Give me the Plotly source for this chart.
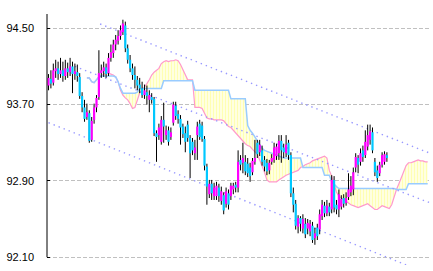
import plotly.graph_objects as go

# ---- candle data (price) ----
opens = [93.90, 93.97, 93.93, 94.05, 94.08, 94.02, 94.06, 94.00, 94.08, 94.04,
         94.10, 94.02, 94.04, 93.99, 93.79, 93.67, 93.57, 93.61, 93.33, 93.54,
         93.67, 93.78, 94.03, 94.05, 94.09, 94.03, 94.19, 94.24, 94.33, 94.37,
         94.42, 94.46, 94.53, 94.29, 94.17, 94.08, 94.01, 93.96, 93.91, 93.87,
         93.80, 93.83, 93.75, 93.78, 93.76, 93.40, 93.38, 93.31, 93.54, 93.38,
         93.43, 93.36, 93.51, 93.69, 93.60, 93.55, 93.47, 93.40, 93.49, 93.35,
         93.31, 93.19, 93.38, 93.50, 93.48, 93.34, 93.05, 92.76, 92.87, 92.74,
         92.74, 92.83, 92.69, 92.75, 92.66, 92.77, 92.74, 92.81, 92.86, 92.83,
         93.12, 93.09, 93.10, 93.08, 93.04, 92.99, 93.10, 93.30, 93.20, 93.22,
         93.12, 93.09, 93.01, 93.10, 93.12, 93.16, 93.19, 93.32, 93.25, 93.19,
         93.30, 93.17, 92.77, 92.66, 92.42, 92.51, 92.40, 92.45, 92.40, 92.37,
         92.43, 92.30, 92.41, 92.39, 92.53, 92.64, 92.56, 92.63, 92.60, 92.91,
         92.65, 92.60, 92.63, 92.72, 92.67, 92.73, 92.78, 92.81, 93.04, 93.14,
         93.10, 93.22, 93.17, 93.26, 93.33, 93.41, 93.10, 93.01, 92.98, 93.07,
         93.10, 93.17]
highs = [94.02, 94.06, 94.13, 94.17, 94.15, 94.19, 94.15, 94.17, 94.14, 94.19,
         94.15, 94.13, 94.12, 94.03, 93.83, 93.75, 93.71, 93.64, 93.57, 93.71,
         93.80, 94.27, 94.12, 94.15, 94.13, 94.24, 94.33, 94.38, 94.43, 94.48,
         94.53, 94.59, 94.57, 94.33, 94.22, 94.13, 94.10, 94.00, 93.98, 93.94,
         93.91, 93.90, 93.85, 93.82, 93.78, 93.43, 93.50, 93.58, 93.72, 93.48,
         93.47, 93.46, 93.73, 93.73, 93.64, 93.59, 93.50, 93.47, 93.53, 93.38,
         93.35, 93.33, 93.52, 93.54, 93.52, 93.37, 93.08, 92.91, 92.91, 92.88,
         92.89, 92.87, 92.84, 92.78, 92.83, 92.81, 92.88, 92.88, 92.89, 93.22,
         93.17, 93.30, 93.17, 93.14, 93.09, 93.14, 93.33, 93.33, 93.33, 93.27,
         93.16, 93.13, 93.12, 93.18, 93.30, 93.29, 93.38, 93.38, 93.29, 93.38,
         93.33, 93.20, 92.83, 92.70, 92.54, 92.53, 92.55, 92.51, 92.50, 92.49,
         92.47, 92.41, 92.45, 92.60, 92.70, 92.68, 92.70, 92.67, 92.96, 92.95,
         92.70, 92.81, 92.75, 92.76, 92.78, 92.98, 92.95, 93.04, 93.19, 93.17,
         93.24, 93.27, 93.43, 93.49, 93.49, 93.46, 93.14, 93.06, 93.10, 93.20,
         93.21, 93.20]
lows = [93.85, 93.87, 93.90, 93.98, 93.96, 93.98, 93.94, 93.96, 93.98, 94.00,
        93.82, 93.96, 93.94, 93.76, 93.62, 93.52, 93.54, 93.30, 93.31, 93.50,
        93.62, 93.75, 93.98, 93.99, 93.98, 94.00, 94.15, 94.19, 94.27, 94.33,
        94.38, 94.43, 94.25, 94.13, 94.04, 93.96, 93.87, 93.85, 93.82, 93.77,
        93.76, 93.70, 93.62, 93.71, 93.37, 93.10, 93.33, 93.28, 93.30, 93.33,
        93.27, 93.33, 93.48, 93.54, 93.50, 93.28, 93.35, 93.20, 93.31, 92.93,
        93.17, 93.12, 93.12, 93.33, 93.31, 93.01, 92.65, 92.72, 92.70, 92.70,
        92.70, 92.68, 92.65, 92.55, 92.62, 92.60, 92.70, 92.76, 92.78, 92.78,
        93.01, 92.98, 92.96, 92.94, 92.89, 92.96, 93.07, 93.14, 93.16, 93.06,
        93.00, 92.96, 92.97, 93.07, 93.09, 93.12, 93.12, 93.09, 93.14, 93.15,
        93.12, 92.73, 92.57, 92.39, 92.35, 92.37, 92.35, 92.30, 92.34, 92.32,
        92.25, 92.23, 92.28, 92.34, 92.49, 92.52, 92.53, 92.53, 92.56, 92.57,
        92.55, 92.52, 92.60, 92.62, 92.64, 92.70, 92.74, 92.75, 92.99, 92.98,
        93.06, 93.10, 93.14, 93.22, 93.28, 93.19, 92.95, 92.89, 92.95, 93.04,
        93.07, 93.10]
closes = [93.98, 93.92, 94.06, 94.08, 94.02, 94.06, 94.00, 94.08, 94.04, 94.10,
          94.02, 94.05, 94.00, 93.79, 93.67, 93.55, 93.62, 93.32, 93.53, 93.67,
          93.77, 94.03, 94.06, 94.09, 94.02, 94.19, 94.25, 94.33, 94.38, 94.42,
          94.48, 94.55, 94.29, 94.17, 94.08, 94.01, 93.96, 93.90, 93.87, 93.80,
          93.85, 93.79, 93.80, 93.75, 93.40, 93.36, 93.46, 93.54, 93.47, 93.43,
          93.31, 93.41, 93.70, 93.58, 93.55, 93.46, 93.39, 93.31, 93.35, 93.19,
          93.22, 93.25, 93.47, 93.36, 93.34, 93.06, 92.84, 92.87, 92.77, 92.83,
          92.85, 92.74, 92.79, 92.59, 92.79, 92.65, 92.85, 92.85, 92.83, 93.10,
          93.07, 93.14, 93.00, 92.98, 92.95, 93.11, 93.14, 93.18, 93.28, 93.10,
          93.05, 93.00, 93.09, 93.14, 93.25, 93.26, 93.32, 93.22, 93.20, 93.28,
          93.17, 92.77, 92.65, 92.43, 92.51, 92.45, 92.50, 92.34, 92.46, 92.45,
          92.28, 92.35, 92.32, 92.55, 92.65, 92.56, 92.64, 92.57, 92.91, 92.62,
          92.60, 92.76, 92.71, 92.66, 92.72, 92.81, 92.85, 92.99, 93.15, 93.07,
          93.19, 93.15, 93.31, 93.38, 93.42, 93.22, 92.99, 92.93, 93.07, 93.17,
          93.18, 93.14]

# ---- Ichimoku cloud spans (start at bar 16, run past the data) ----
cloud_start = 16
span_a = [93.98, 93.98, 93.94, 93.93, 93.96,
          93.99, 94.00, 94.00, 94.00, 94.00, 94.00, 94.00, 93.99, 93.94, 93.87,
          93.82, 93.82, 93.82, 93.82, 93.82, 93.82, 93.83, 93.87, 93.87, 93.87,
          93.87, 93.87, 93.87, 93.87, 93.87, 93.87, 93.87, 93.95, 93.95, 93.95,
          93.95, 93.95, 93.95, 93.95, 93.95, 93.95, 93.95, 93.95, 93.95, 93.95,
          93.85, 93.85, 93.85, 93.85, 93.85, 93.85, 93.85, 93.85, 93.85, 93.85,
          93.85, 93.85, 93.85, 93.85, 93.85, 93.76, 93.76, 93.76, 93.76, 93.76,
          93.76, 93.76, 93.48, 93.43, 93.40, 93.36, 93.32, 93.28, 93.24, 93.22,
          93.21, 93.20, 93.19, 93.18, 93.17, 93.16, 93.15, 93.14, 93.14, 93.14,
          93.14, 93.14, 93.14, 93.14, 93.14, 93.04, 93.04, 93.04, 93.04, 93.04,
          93.04, 93.04, 93.04, 93.04, 92.96, 92.96, 92.96, 92.89, 92.86, 92.84,
          92.82, 92.82, 92.82, 92.82, 92.82, 92.82, 92.82, 92.82, 92.82, 92.82,
          92.82, 92.82, 92.82, 92.82, 92.82, 92.82, 92.82, 92.82, 92.82, 92.82,
          92.82, 92.82, 92.82, 92.82, 92.81, 92.81, 92.81, 92.81, 92.81, 92.87,
          92.87, 92.87, 92.87, 92.87, 92.87, 92.87, 92.87, 92.87]
span_b = [93.98, 93.98, 93.94, 93.93, 93.96,
          93.99, 94.00, 94.02, 94.03, 94.03, 94.02, 94.01, 93.99, 93.94, 93.85,
          93.80, 93.77, 93.75, 93.71, 93.66, 93.67, 93.75, 93.82, 93.85, 93.88,
          93.92, 93.96, 94.01, 94.04, 94.06, 94.08, 94.13, 94.15, 94.16, 94.15,
          94.16, 94.16, 94.17, 94.16, 94.12, 94.06, 94.00, 93.96, 93.96, 93.96,
          93.67, 93.67, 93.67, 93.66, 93.61, 93.56, 93.55, 93.55, 93.54, 93.54,
          93.54, 93.54, 93.53, 93.50, 93.47, 93.46, 93.43, 93.40, 93.37, 93.34,
          93.31, 93.29, 93.27, 93.26, 93.23, 93.21, 93.18, 93.12, 93.06, 92.99,
          92.91, 92.89, 92.89, 92.89, 92.89, 92.91, 92.93, 92.95, 92.96, 92.97,
          92.98, 92.99, 93.00, 93.01, 93.04, 93.05, 93.07, 93.08, 93.09, 93.11,
          93.12, 93.13, 93.14, 93.15, 93.16, 93.14, 93.01, 92.95, 92.86, 92.78,
          92.74, 92.72, 92.70, 92.68, 92.66, 92.65, 92.64, 92.63, 92.62, 92.63,
          92.64, 92.65, 92.66, 92.64, 92.62, 92.60, 92.60, 92.62, 92.64, 92.63,
          92.62, 92.61, 92.65, 92.74, 92.81, 92.87, 92.93, 92.99, 93.06, 93.09,
          93.09, 93.10, 93.11, 93.12, 93.11, 93.11, 93.10, 93.10]

# ---- trend channel (bar index, price) ----
upper_x, upper_y = [21.5, 160], [94.545, 93.18]
middle_x, middle_y = [11, 160], [94.10, 92.66]
lower_x, lower_y = [0, 160], [93.51, 91.91]

y_ticks = [92.10, 92.90, 93.70, 94.50]
y_labels = ["92.10", "92.90", "93.70", "94.50"]

n = len(closes)
bars = list(range(n))
cloud_x = list(range(cloud_start, cloud_start + len(span_a)))

fig = go.Figure()

# cloud: span B line, then span A filled to it with vertical hatch
fig.add_trace(go.Scatter(x=cloud_x, y=span_b, mode="lines",
                         line=dict(color="#FF99CC", width=1.2), hoverinfo="skip"))
fig.add_trace(go.Scatter(x=cloud_x, y=span_a, mode="lines", fill="tonexty",
                         fillcolor="white",
                         fillpattern=dict(shape="|", size=3, solidity=0.6,
                                          fgcolor="#FFFF66", bgcolor="white"),
                         line=dict(color="#99CCFF", width=1.5), hoverinfo="skip"))

# trend channel
for tx, ty in [(upper_x, upper_y), (middle_x, middle_y), (lower_x, lower_y)]:
    fig.add_trace(go.Scatter(x=tx, y=ty, mode="lines",
                             line=dict(color="#9999FF", width=1.4, dash="1.4px,4px"),
                             hoverinfo="skip"))

# wicks
wx, wy = [], []
for i in bars:
    wx += [i, i, None]
    wy += [lows[i], highs[i], None]
fig.add_trace(go.Scatter(x=wx, y=wy, mode="lines",
                         line=dict(color="black", width=1), hoverinfo="skip"))

# bodies
ux, uy, dx, dy = [], [], [], []
for i in bars:
    if closes[i] >= opens[i]:
        ux += [i, i, None]
        uy += [opens[i], closes[i], None]
    else:
        dx += [i, i, None]
        dy += [opens[i], closes[i], None]
fig.add_trace(go.Scatter(x=ux, y=uy, mode="lines",
                         line=dict(color="#FF00FF", width=2.2), hoverinfo="skip"))
fig.add_trace(go.Scatter(x=dx, y=dy, mode="lines",
                         line=dict(color="#00C8FF", width=2.2), hoverinfo="skip"))

# left axis line (stops at the lowest tick)
fig.add_shape(type="line", xref="paper", yref="y", x0=0, x1=0,
              y0=y_ticks[0], y1=94.65, line=dict(color="black", width=1))

fig.update_layout(
    width=433, height=271,
    margin=dict(l=47, r=2, t=14, b=6),
    paper_bgcolor="white", plot_bgcolor="white",
    showlegend=False,
    xaxis=dict(range=[-0.625, 159.375], visible=False),
    yaxis=dict(range=[92.018, 94.650], tickvals=y_ticks, ticktext=y_labels,
               showgrid=True, gridcolor="#C0C0C0", gridwidth=1, griddash="4px,2px",
               zeroline=False, showline=False,
               ticks="inside", ticklen=3, tickcolor="black", tickwidth=1,
               ticklabelstandoff=12,
               tickfont=dict(family="Liberation Sans, Arial, sans-serif", size=11,
                             color="black")),
)

fig.write_html("out.html")
